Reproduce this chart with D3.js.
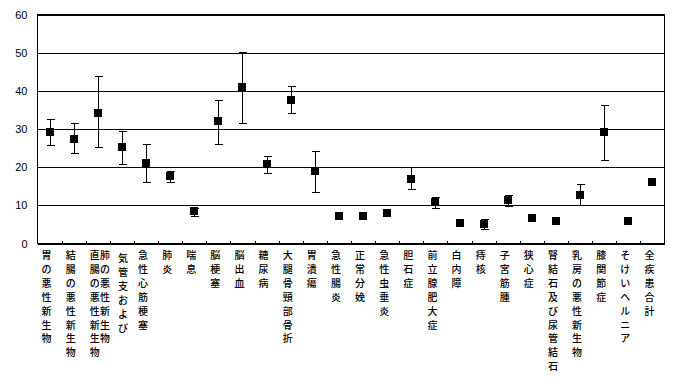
<!DOCTYPE html>
<html>
<head>
<meta charset="utf-8">
<script src="https://cdn.jsdelivr.net/npm/d3@7"></script>
<style>
  body { margin: 0; background: #fff; }
  svg { display: block; }
  line, rect { shape-rendering: crispEdges; }
</style>
</head>
<body>
<div id="chart"></div>
<script>
// categories ("\n" = column break in the vertical label)
const categories = [
  "胃の悪性新生物", "結腸の悪性新生物", "直腸の悪性新生物", "気管支および\n肺の悪性新生物",
  "急性心筋梗塞", "肺炎", "喘息", "脳梗塞", "脳出血", "糖尿病", "大腿骨頸部骨折", "胃潰瘍",
  "急性腸炎", "正常分娩", "急性虫垂炎", "胆石症", "前立腺肥大症", "白内障", "痔核", "子宮筋腫",
  "狭心症", "腎結石及び尿管結石", "乳房の悪性新生物", "膝関節症", "そけいヘルニア", "全疾患合計"
];
const values = [29.1, 27.5, 34.3, 25.2, 21.2, 17.6, 8.4, 32.0, 40.9, 20.7, 37.7, 19.1,
  7.2, 7.1, 7.9, 17.0, 10.9, 5.5, 5.2, 11.3, 6.6, 5.8, 12.8, 29.1, 6.0, 16.0];
const upper = [32.5, 31.6, 43.8, 29.6, 26.2, 19.1, 9.3, 37.7, 50.2, 22.8, 41.3, 24.3,
  null, null, null, 20.1, 12.2, null, 6.5, 12.6, null, null, 15.5, 36.2, null, null];
const lower = [25.7, 23.6, 25.2, 20.7, 16.2, 16.0, 7.2, 26.2, 31.7, 18.4, 34.1, 13.6,
  null, null, null, 14.4, 9.4, null, 3.7, 9.7, null, null, 10.2, 22.0, null, null];
const yTicks = [0, 10, 20, 30, 40, 50, 60];

const width = 679, height = 384;
const plot = { left: 37.5, right: 664.5, top: 14.5, bottom: 243.5 };

const svg = d3.select("#chart")
  .append("svg")
  .attr("width", width)
  .attr("height", height);

svg.append("rect").attr("width", width).attr("height", height).attr("fill", "#fff");

const x = d3.scaleBand()
  .domain(categories)
  .range([plot.left, plot.right])
  .padding(0);

const y = d3.scaleLinear()
  .domain([0, 60])
  .range([plot.bottom, plot.top]);

// gridlines + y labels
const yAxis = svg.append("g")
  .attr("transform", `translate(${plot.left},0)`)
  .call(d3.axisLeft(y).tickValues(yTicks).tickSize(-(plot.right - plot.left)).tickPadding(10));
yAxis.select(".domain").remove();
yAxis.selectAll("line").attr("stroke", "#000").attr("stroke-width", 1);
yAxis.selectAll("text")
  .attr("font-family", "Liberation Sans, Arial, sans-serif")
  .attr("font-size", 11)
  .attr("fill", "#000");

// plot frame
svg.append("rect")
  .attr("x", plot.left).attr("y", plot.top)
  .attr("width", plot.right - plot.left).attr("height", plot.bottom - plot.top)
  .attr("fill", "none").attr("stroke", "#000").attr("stroke-width", 1);

// category boundary ticks (pointing inward)
svg.append("g")
  .selectAll("line")
  .data(categories.slice(1))
  .enter()
  .append("line")
  .attr("x1", (d) => Math.round(x(d)) + 0.5)
  .attr("x2", (d) => Math.round(x(d)) + 0.5)
  .attr("y1", plot.bottom)
  .attr("y2", plot.bottom - 3)
  .attr("stroke", "#000");

const cx = (d) => Math.round(x(d) + x.bandwidth() / 2) + 0.5;

// error bars
const rows = categories.map((c, i) => ({ c, v: values[i], hi: upper[i], lo: lower[i] }));
const bars = svg.append("g")
  .selectAll("g")
  .data(rows.filter((d) => d.hi != null))
  .enter()
  .append("g")
  .attr("stroke", "#000")
  .attr("stroke-width", 1);

bars.append("line")
  .attr("x1", (d) => cx(d.c)).attr("x2", (d) => cx(d.c))
  .attr("y1", (d) => y(d.hi)).attr("y2", (d) => y(d.lo));
bars.append("line")
  .attr("x1", (d) => cx(d.c) - 4).attr("x2", (d) => cx(d.c) + 4)
  .attr("y1", (d) => Math.round(y(d.hi)) + 0.5).attr("y2", (d) => Math.round(y(d.hi)) + 0.5);
bars.append("line")
  .attr("x1", (d) => cx(d.c) - 4).attr("x2", (d) => cx(d.c) + 4)
  .attr("y1", (d) => Math.round(y(d.lo)) + 0.5).attr("y2", (d) => Math.round(y(d.lo)) + 0.5);

// markers
svg.append("g")
  .selectAll("rect")
  .data(rows)
  .enter()
  .append("rect")
  .attr("x", (d) => cx(d.c) - 4.5)
  .attr("y", (d) => Math.round(y(d.v)) - 4)
  .attr("width", 8)
  .attr("height", 8)
  .attr("fill", "#000");

// vertical category labels
const lineStep = 13.9;
const labels = svg.append("g")
  .attr("font-family", "Noto Sans CJK JP, sans-serif")
  .attr("font-size", 10)
  .attr("font-weight", 500)
  .attr("fill", "#000")
  .attr("text-anchor", "middle");

categories.forEach((c) => {
  const cols = c.split("\n");
  const center = x(c) + x.bandwidth() / 2;
  cols.forEach((col, j) => {
    const colX = cols.length === 1 ? center - 3 : center + 1 - j * 18;
    const y0 = cols.length > 1 && j === 0 ? 262 : 259;
    const t = labels.append("text");
    Array.from(col).forEach((ch, k) => {
      t.append("tspan")
        .attr("x", colX)
        .attr("y", y0 + k * lineStep)
        .text(ch);
    });
  });
});
</script>
</body>
</html>
